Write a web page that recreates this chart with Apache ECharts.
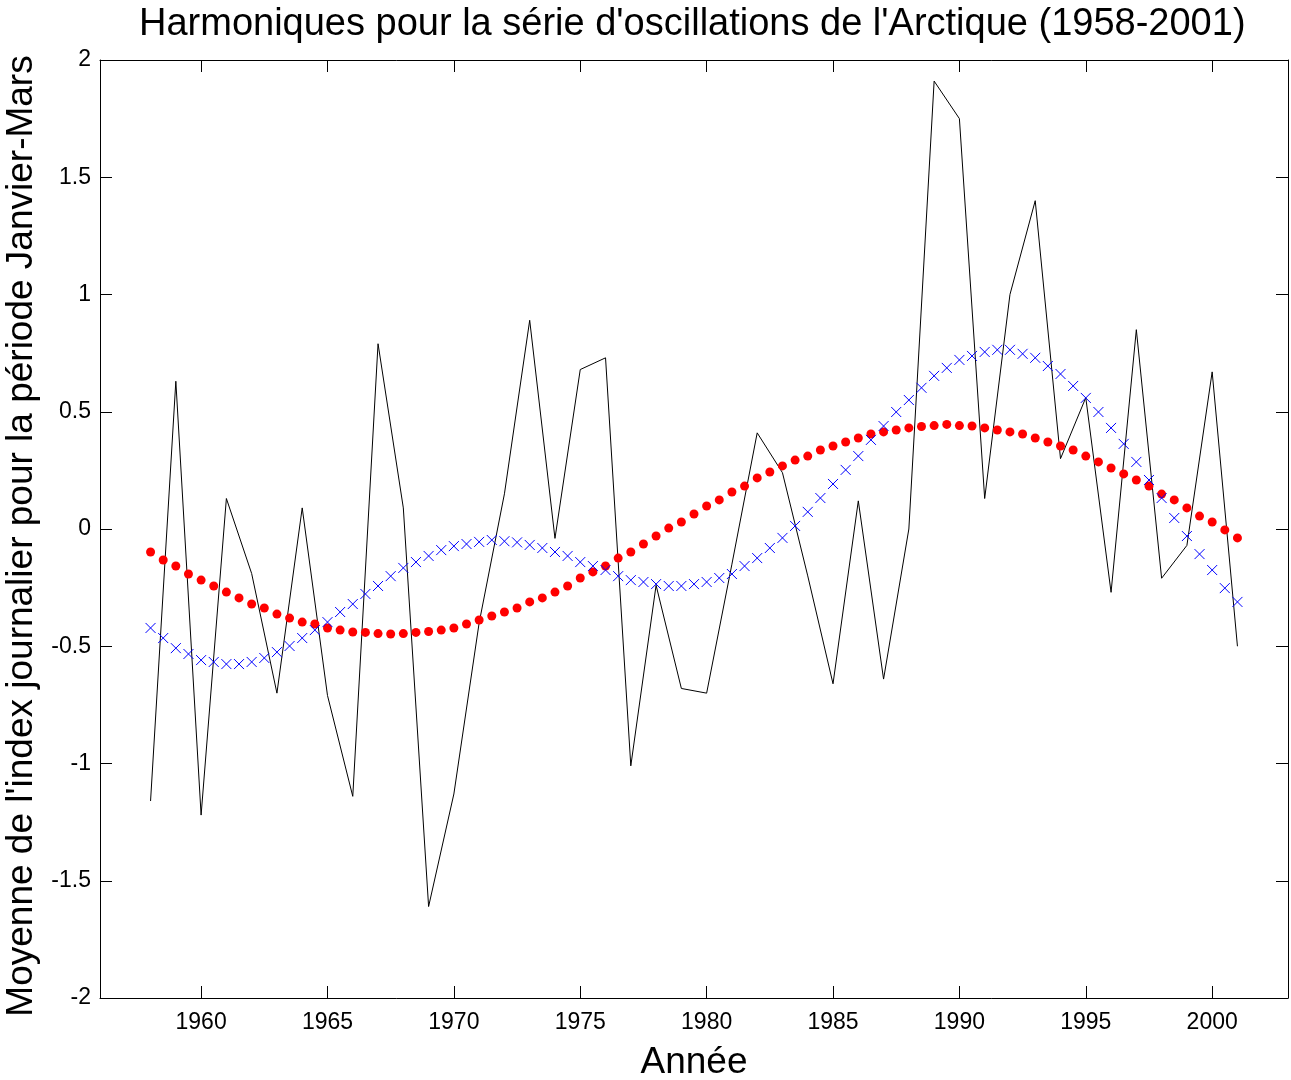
<!DOCTYPE html>
<html>
<head>
<meta charset="utf-8">
<title>Harmoniques AO</title>
<script src="https://cdn.jsdelivr.net/npm/echarts@6/dist/echarts.min.js"></script>
<style>
  html, body { margin: 0; padding: 0; background: #ffffff; }
  #chart { width: 1291px; height: 1080px; }
</style>
</head>
<body>
<div id="chart"></div>
<script>
// Annual Jan-Mar mean of the daily Arctic Oscillation index, 1958-2001
const years = [];
for (let y = 1958; y <= 2001; y++) years.push(y);
const aoIndex = [
  -1.16, 0.63, -1.22, 0.13, -0.19, -0.70, 0.09, -0.71, -1.14, 0.79,
  0.09, -1.61, -1.13, -0.40, 0.15, 0.89, -0.04, 0.68, 0.73, -1.01,
  -0.24, -0.68, -0.70, -0.15, 0.41, 0.24, -0.20, -0.66, 0.12, -0.64,
  0.00, 1.91, 1.75, 0.13, 1.00, 1.40, 0.30, 0.56, -0.27, 0.85,
  -0.21, -0.07, 0.67, -0.50
];

// Harmonic reconstructions sampled every half year
const halfYears = [];
for (let t = 1958; t <= 2001; t += 0.5) halfYears.push(t);
const harmonicLow = [
  -0.098, -0.132, -0.158, -0.192, -0.218, -0.243, -0.269, -0.294, -0.320, -0.337,
  -0.363, -0.380, -0.397, -0.405, -0.422, -0.431, -0.439, -0.441, -0.446, -0.448,
  -0.446, -0.441, -0.437, -0.431, -0.422, -0.405, -0.388, -0.371, -0.354, -0.337,
  -0.311, -0.294, -0.269, -0.243, -0.209, -0.183, -0.158, -0.124, -0.098, -0.064,
  -0.030, 0.004, 0.030, 0.064, 0.098, 0.124, 0.158, 0.183, 0.218, 0.243,
  0.269, 0.294, 0.311, 0.337, 0.354, 0.371, 0.388, 0.405, 0.414, 0.422,
  0.431, 0.437, 0.441, 0.446, 0.441, 0.439, 0.431, 0.422, 0.414, 0.405,
  0.388, 0.371, 0.354, 0.337, 0.311, 0.286, 0.260, 0.235, 0.209, 0.183,
  0.149, 0.124, 0.090, 0.055, 0.030, -0.004, -0.038
];
const harmonicHigh = [
  -0.422, -0.465, -0.508, -0.533, -0.559, -0.567, -0.576, -0.576, -0.567, -0.550,
  -0.525, -0.499, -0.465, -0.431, -0.397, -0.354, -0.320, -0.277, -0.243, -0.201,
  -0.166, -0.141, -0.115, -0.090, -0.073, -0.064, -0.055, -0.047, -0.052, -0.057,
  -0.068, -0.081, -0.098, -0.115, -0.141, -0.158, -0.175, -0.201, -0.218, -0.226,
  -0.235, -0.243, -0.243, -0.235, -0.226, -0.209, -0.192, -0.158, -0.124, -0.081,
  -0.038, 0.013, 0.073, 0.132, 0.192, 0.252, 0.311, 0.380, 0.439, 0.499,
  0.550, 0.602, 0.653, 0.687, 0.721, 0.738, 0.755, 0.764, 0.764, 0.747,
  0.730, 0.695, 0.661, 0.610, 0.559, 0.499, 0.431, 0.363, 0.286, 0.209,
  0.132, 0.047, -0.030, -0.107, -0.175, -0.252, -0.311
];

const xTicks = [1960, 1965, 1970, 1975, 1980, 1985, 1990, 1995, 2000];
const yTicks = [-2, -1.5, -1, -0.5, 0, 0.5, 1, 1.5, 2];

const titleText = "Harmoniques pour la série d'oscillations de l'Arctique (1958-2001)";
const xName = 'Année';
const yName = "Moyenne de l'index journalier pour la période Janvier-Mars";

const FONT = 'Liberation Sans, Arial, Helvetica, sans-serif';

function pairs(xs, ys) { return xs.map((x, i) => [x, ys[i]]); }

const chart = echarts.init(document.getElementById('chart'), null, { renderer: 'canvas' });

const tickStyle = { show: true, inside: true, length: 12, lineStyle: { color: '#000', width: 1 } };
const lineStyle = { show: true, onZero: false, lineStyle: { color: '#000', width: 1 } };

chart.setOption({
  animation: false,
  backgroundColor: '#ffffff',
  title: {
    text: titleText,
    left: 134,
    top: 1,
    textStyle: { fontFamily: FONT, fontSize: 38, fontWeight: 'normal', color: '#000' }
  },
  // vertical axis title, rotated a quarter turn
  graphic: [{
    type: 'text',
    x: 22, y: 536,
    rotation: Math.PI / 2,
    style: {
      text: yName, fontFamily: FONT, fontSize: 37, fill: '#000',
      align: 'center', verticalAlign: 'middle'
    }
  }],
  grid: { left: 100, top: 60, width: 1188, height: 938, containLabel: false, outerBoundsMode: 'none' },
  xAxis: [
    {
      type: 'value', position: 'bottom', min: 1956, max: 2003,
      axisLine: lineStyle,
      axisTick: Object.assign({ customValues: xTicks }, tickStyle),
      axisLabel: { customValues: xTicks, formatter: v => String(v), fontFamily: FONT, fontSize: 23, color: '#000', margin: 13 },
      splitLine: { show: false },
      name: xName, nameLocation: 'middle', nameGap: 46,
      nameTextStyle: { fontFamily: FONT, fontSize: 37, color: '#000' }
    },
    {
      type: 'value', position: 'top', min: 1956, max: 2003,
      axisLine: lineStyle,
      axisTick: Object.assign({ customValues: xTicks }, tickStyle),
      axisLabel: { show: false },
      splitLine: { show: false }
    }
  ],
  yAxis: [
    {
      type: 'value', position: 'left', min: -2, max: 2, interval: 0.5,
      axisLine: lineStyle,
      axisTick: Object.assign({ customValues: yTicks }, tickStyle),
      axisLabel: { customValues: yTicks, formatter: v => String(v), fontFamily: FONT, fontSize: 23, color: '#000', margin: 9 },
      splitLine: { show: false }
    },
    {
      type: 'value', position: 'right', min: -2, max: 2, interval: 0.5,
      axisLine: lineStyle,
      axisTick: Object.assign({ customValues: yTicks }, tickStyle),
      axisLabel: { show: false },
      splitLine: { show: false }
    }
  ],
  series: [
    {
      name: 'AO', type: 'line', data: pairs(years, aoIndex),
      showSymbol: false, symbol: 'none',
      lineStyle: { color: '#000', width: 1 }, z: 2
    },
    {
      name: 'harmonique 1', type: 'scatter', data: pairs(halfYears, harmonicLow),
      symbol: 'circle', symbolSize: 9,
      itemStyle: { color: '#ff0000', opacity: 1 }, z: 3
    },
    {
      name: 'harmonique 2', type: 'scatter', data: pairs(halfYears, harmonicHigh),
      symbol: 'path://M0,0L10,10M10,0L0,10', symbolSize: 10,
      itemStyle: { color: 'rgba(0,0,0,0)', borderColor: '#0000ff', borderWidth: 1, opacity: 1 }, z: 4
    }
  ]
});
</script>
</body>
</html>
